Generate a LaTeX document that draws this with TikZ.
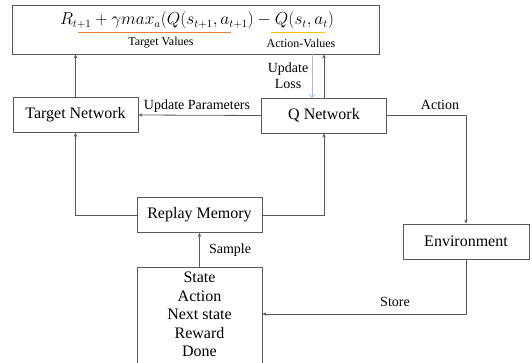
\documentclass[tikz,border=0pt]{standalone}
\usepackage{fontspec}
\setmainfont{Liberation Serif}
\usetikzlibrary{arrows.meta}
\definecolor{linec}{HTML}{595959}
\definecolor{orangeu}{HTML}{ED7D31}
\definecolor{yellowu}{HTML}{FFC000}
\definecolor{lblue}{HTML}{9DC3E6}
\begin{document}
\begin{tikzpicture}[x=1pt,y=-1pt,
  boxst/.style={draw=linec, line width=0.8pt, minimum width=125pt, minimum height=35pt, inner sep=0pt, font=\fontsize{16}{18}\selectfont},
  conn/.style={draw=linec, line width=0.8pt, -{Stealth[length=4pt,width=3.5pt]}},
  lbl/.style={font=\fontsize{14}{16}\selectfont, inner sep=1pt},
  slbl/.style={font=\fontsize{12}{14}\selectfont, inner sep=1pt}]
\useasboundingbox (0,0) rectangle (532,363);
% top box
\node[draw=linec, line width=0.8pt, minimum width=367pt, minimum height=49pt, inner sep=0pt] (top) at (195.5,29.5) {};
\node[inner sep=0pt, anchor=base] (formula) at (197,25) {\fontsize{16}{18}\selectfont$R_{t+1} + \gamma max_a(Q(s_{t+1},a_{t+1}) - Q(s_t,a_t)$};
\coordinate (ou1) at (78,32.5); \coordinate (ou2) at (231,32.5);
\coordinate (yu1) at (271,32.5); \coordinate (yu2) at (325,32.5);
\draw[orangeu, line width=1.6pt] (ou1) -- (ou2);
\draw[yellowu, line width=1.6pt] (yu1) -- (yu2);
\node[slbl] (tv) at (161,43) {Target Values};
\node[slbl] (av) at (301,43) {Action-Values};
% boxes
\node[boxst] (tn) at (75.5,115) {Target Network};
\node[boxst] (qn) at (324,115.5) {Q Network};
\node[boxst] (rm) at (199.5,215) {Replay Memory};
\node[boxst, minimum width=126pt] (env) at (466,241.5) {Environment};
\node[draw=linec, line width=0.8pt, minimum width=125pt, minimum height=100pt, inner sep=0pt] (mem) at (199.5,317) {};
\node[font=\fontsize{16}{18.5}\selectfont, align=center, anchor=north, inner sep=0pt] (memtxt) at (199.5,272) {State\\Action\\Next state\\Reward\\Done};
% connectors
\draw[conn] (tn.north) -- (tn.north |- top.south);
\draw[conn] (qn.north) -- (qn.north |- top.south);
\coordinate (lbtop) at (312,54);
\coordinate (lbbot) at (312,98);
\draw[lblue, line width=0.8pt, -{Straight Barb[length=3pt,width=5pt]}] (lbtop) -- (lbbot);
\node[lbl, align=center] (ul) at (288,76) {Update\\Loss};
\draw[conn] (qn.west) -- (tn.east);
\node[lbl] (upl) at (197,106) {Update Parameters};
\coordinate (act) at (466,115.5);
\draw[conn] (qn.east) -- (act) -- (env.north);
\node[lbl] (actl) at (440,105) {Action};
\coordinate (rml) at (75.5,215);
\coordinate (rmr) at (324,215);
\draw[conn] (rm.west) -- (rml) -- (tn.south);
\draw[conn] (rm.east) -- (rmr) -- (qn.south);
\draw[conn] (mem.north) -- (rm.south);
\node[lbl] (sml) at (230,250) {Sample};
\coordinate (st) at (466,314);
\draw[conn] (env.south) -- (st) -- (mem.east |- st);
\node[lbl] (stl) at (395,302) {Store};
\end{tikzpicture}
\end{document}
